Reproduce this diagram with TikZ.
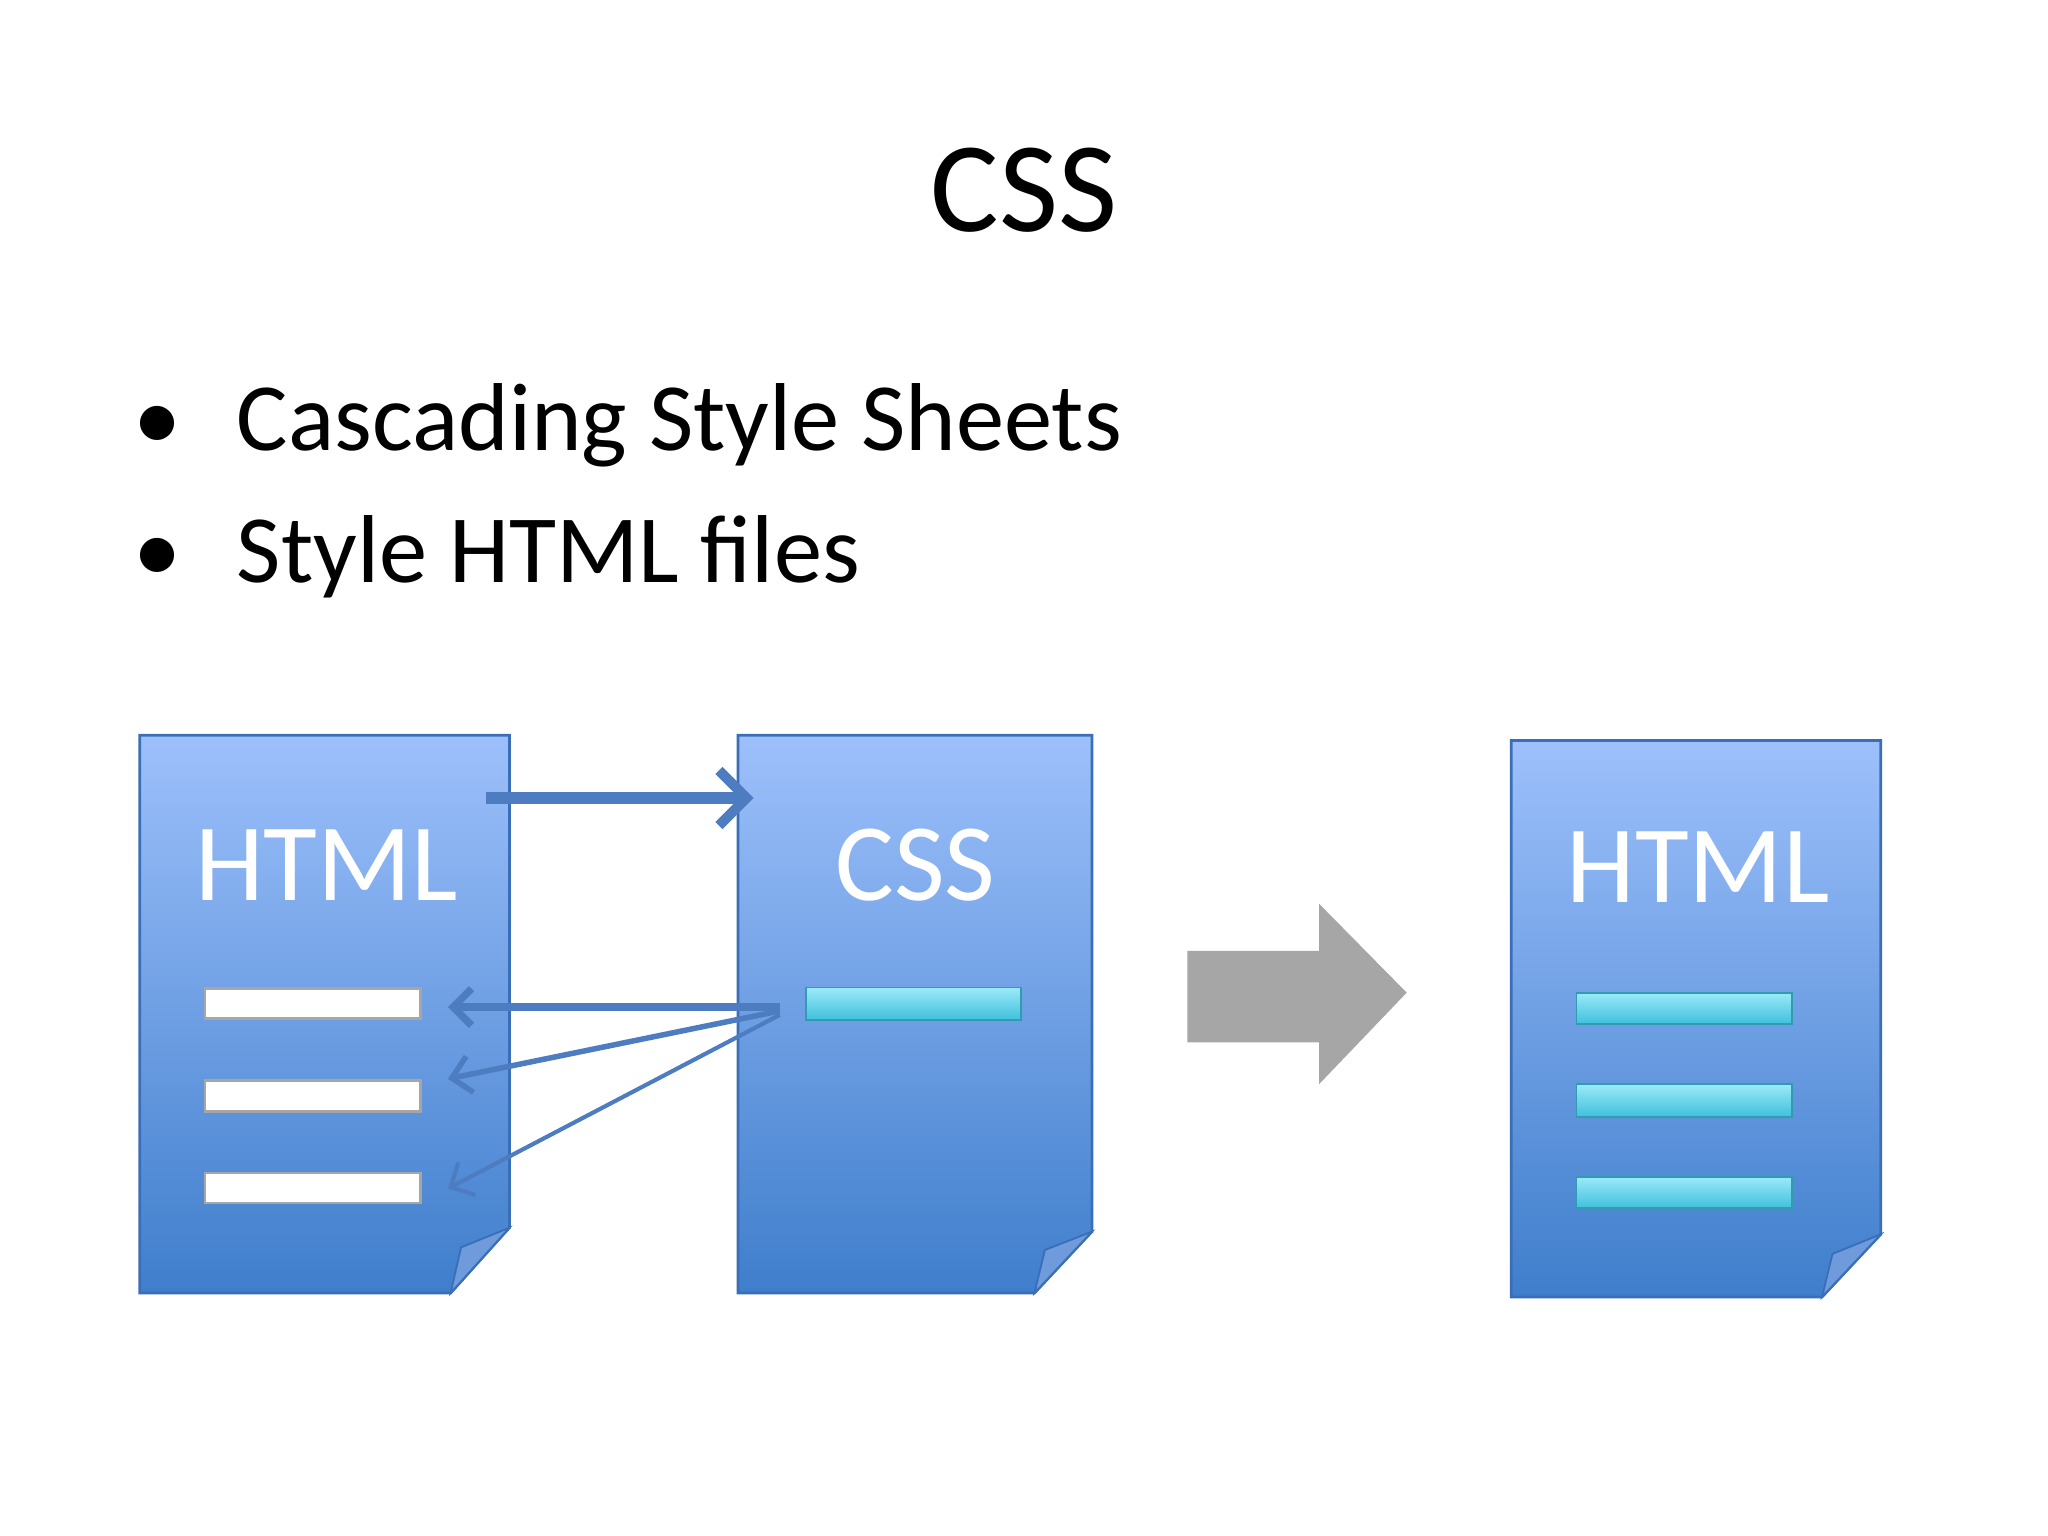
\documentclass[tikz,border=0pt]{standalone}
\usepackage{fontspec}
\setmainfont{Carlito}
\usetikzlibrary{arrows.meta}
\definecolor{docTop}{HTML}{9DC0FB}
\definecolor{docBot}{HTML}{3F7ECC}
\definecolor{docEdge}{HTML}{3A6FB8}
\definecolor{fold}{HTML}{6F9BDD}
\definecolor{arr}{HTML}{4D7CC0}
\definecolor{cyanTop}{HTML}{9BEAF8}
\definecolor{cyanBot}{HTML}{3FC0DD}
\tikzset{
 doc/.style={top color=docTop,bottom color=docBot,draw=docEdge,line width=0.6pt},
 foldc/.style={fill=fold,draw=docEdge,line width=0.4pt},
 wbar/.style={fill=white,draw=gray!70,line width=0.6pt},
 cbar/.style={top color=cyanTop,bottom color=cyanBot,draw=cyanBot!80!black,line width=0.4pt},
 lbl/.style={text=white,font=\fontsize{24}{24}\selectfont},
 conn/.style={draw=arr,line width=0.9pt,-{Straight Barb[length=4pt,width=8pt]}},
}
\begin{document}
\begin{tikzpicture}[x=0.01cm,y=-0.01cm]
\useasboundingbox (0,0) rectangle (1568,1176);
\node[font=\fontsize{28}{28}\selectfont] (title) at (784,146) {CSS};
\node[anchor=west,font=\fontsize{21}{21}\selectfont] (b1) at (90,326) {•\hspace{12pt}Cascading Style Sheets};
\node[anchor=west,font=\fontsize{21}{21}\selectfont] (b2) at (90,426) {•\hspace{12pt}Style HTML files};
% doc 1
\draw[doc] (107,563) -- (390,563) -- (390,940) -- (345,990) -- (107,990) -- cycle;
\draw[foldc] (390,940) -- (345,990) -- (353,955) -- cycle;
\node[lbl] (h1) at (250,662) {HTML};
\draw[wbar] (157,757) rectangle (322,780);
\draw[wbar] (157,827) rectangle (322,851);
\draw[wbar] (157,898) rectangle (322,921);
% doc 2
\draw[doc] (565,563) -- (836,563) -- (836,943) -- (792,990) -- (565,990) -- cycle;
\draw[foldc] (836,943) -- (792,990) -- (800,957) -- cycle;
\node[lbl] (c2) at (701,662) {CSS};
\draw[cbar] (617,756) rectangle (782,781);
% doc 3
\draw[doc] (1157,567) -- (1440,567) -- (1440,945) -- (1395,993) -- (1157,993) -- cycle;
\draw[foldc] (1440,945) -- (1395,993) -- (1403,960) -- cycle;
\node[lbl] (h3) at (1300,664) {HTML};
\draw[cbar] (1207,760) rectangle (1372,784);
\draw[cbar] (1207,830) rectangle (1372,855);
\draw[cbar] (1207,901) rectangle (1372,925);
% connectors
\coordinate (s0) at (372,611); \coordinate (e0) at (577,611);
\draw[draw=arr,line width=2.6pt,-{Straight Barb[length=6pt,width=12pt,line width=2.2pt]}] (s0) -- (e0);
\coordinate (src1) at (597,771); \coordinate (src2) at (597,774); \coordinate (src3) at (597,777);
\coordinate (t1) at (343,771); \coordinate (t2) at (343,826); \coordinate (t3) at (343,910);
\draw[conn,line width=1.6pt] (src1) -- (t1);
\draw[conn,line width=1.2pt] (src2) -- (t2);
\draw[conn] (src3) -- (t3);
% gray arrow
\fill[gray!70] (909,728) -- (1010,728) -- (1010,692) -- (1077,760) -- (1010,830) -- (1010,798) -- (909,798) -- cycle;
\end{tikzpicture}
\end{document}
